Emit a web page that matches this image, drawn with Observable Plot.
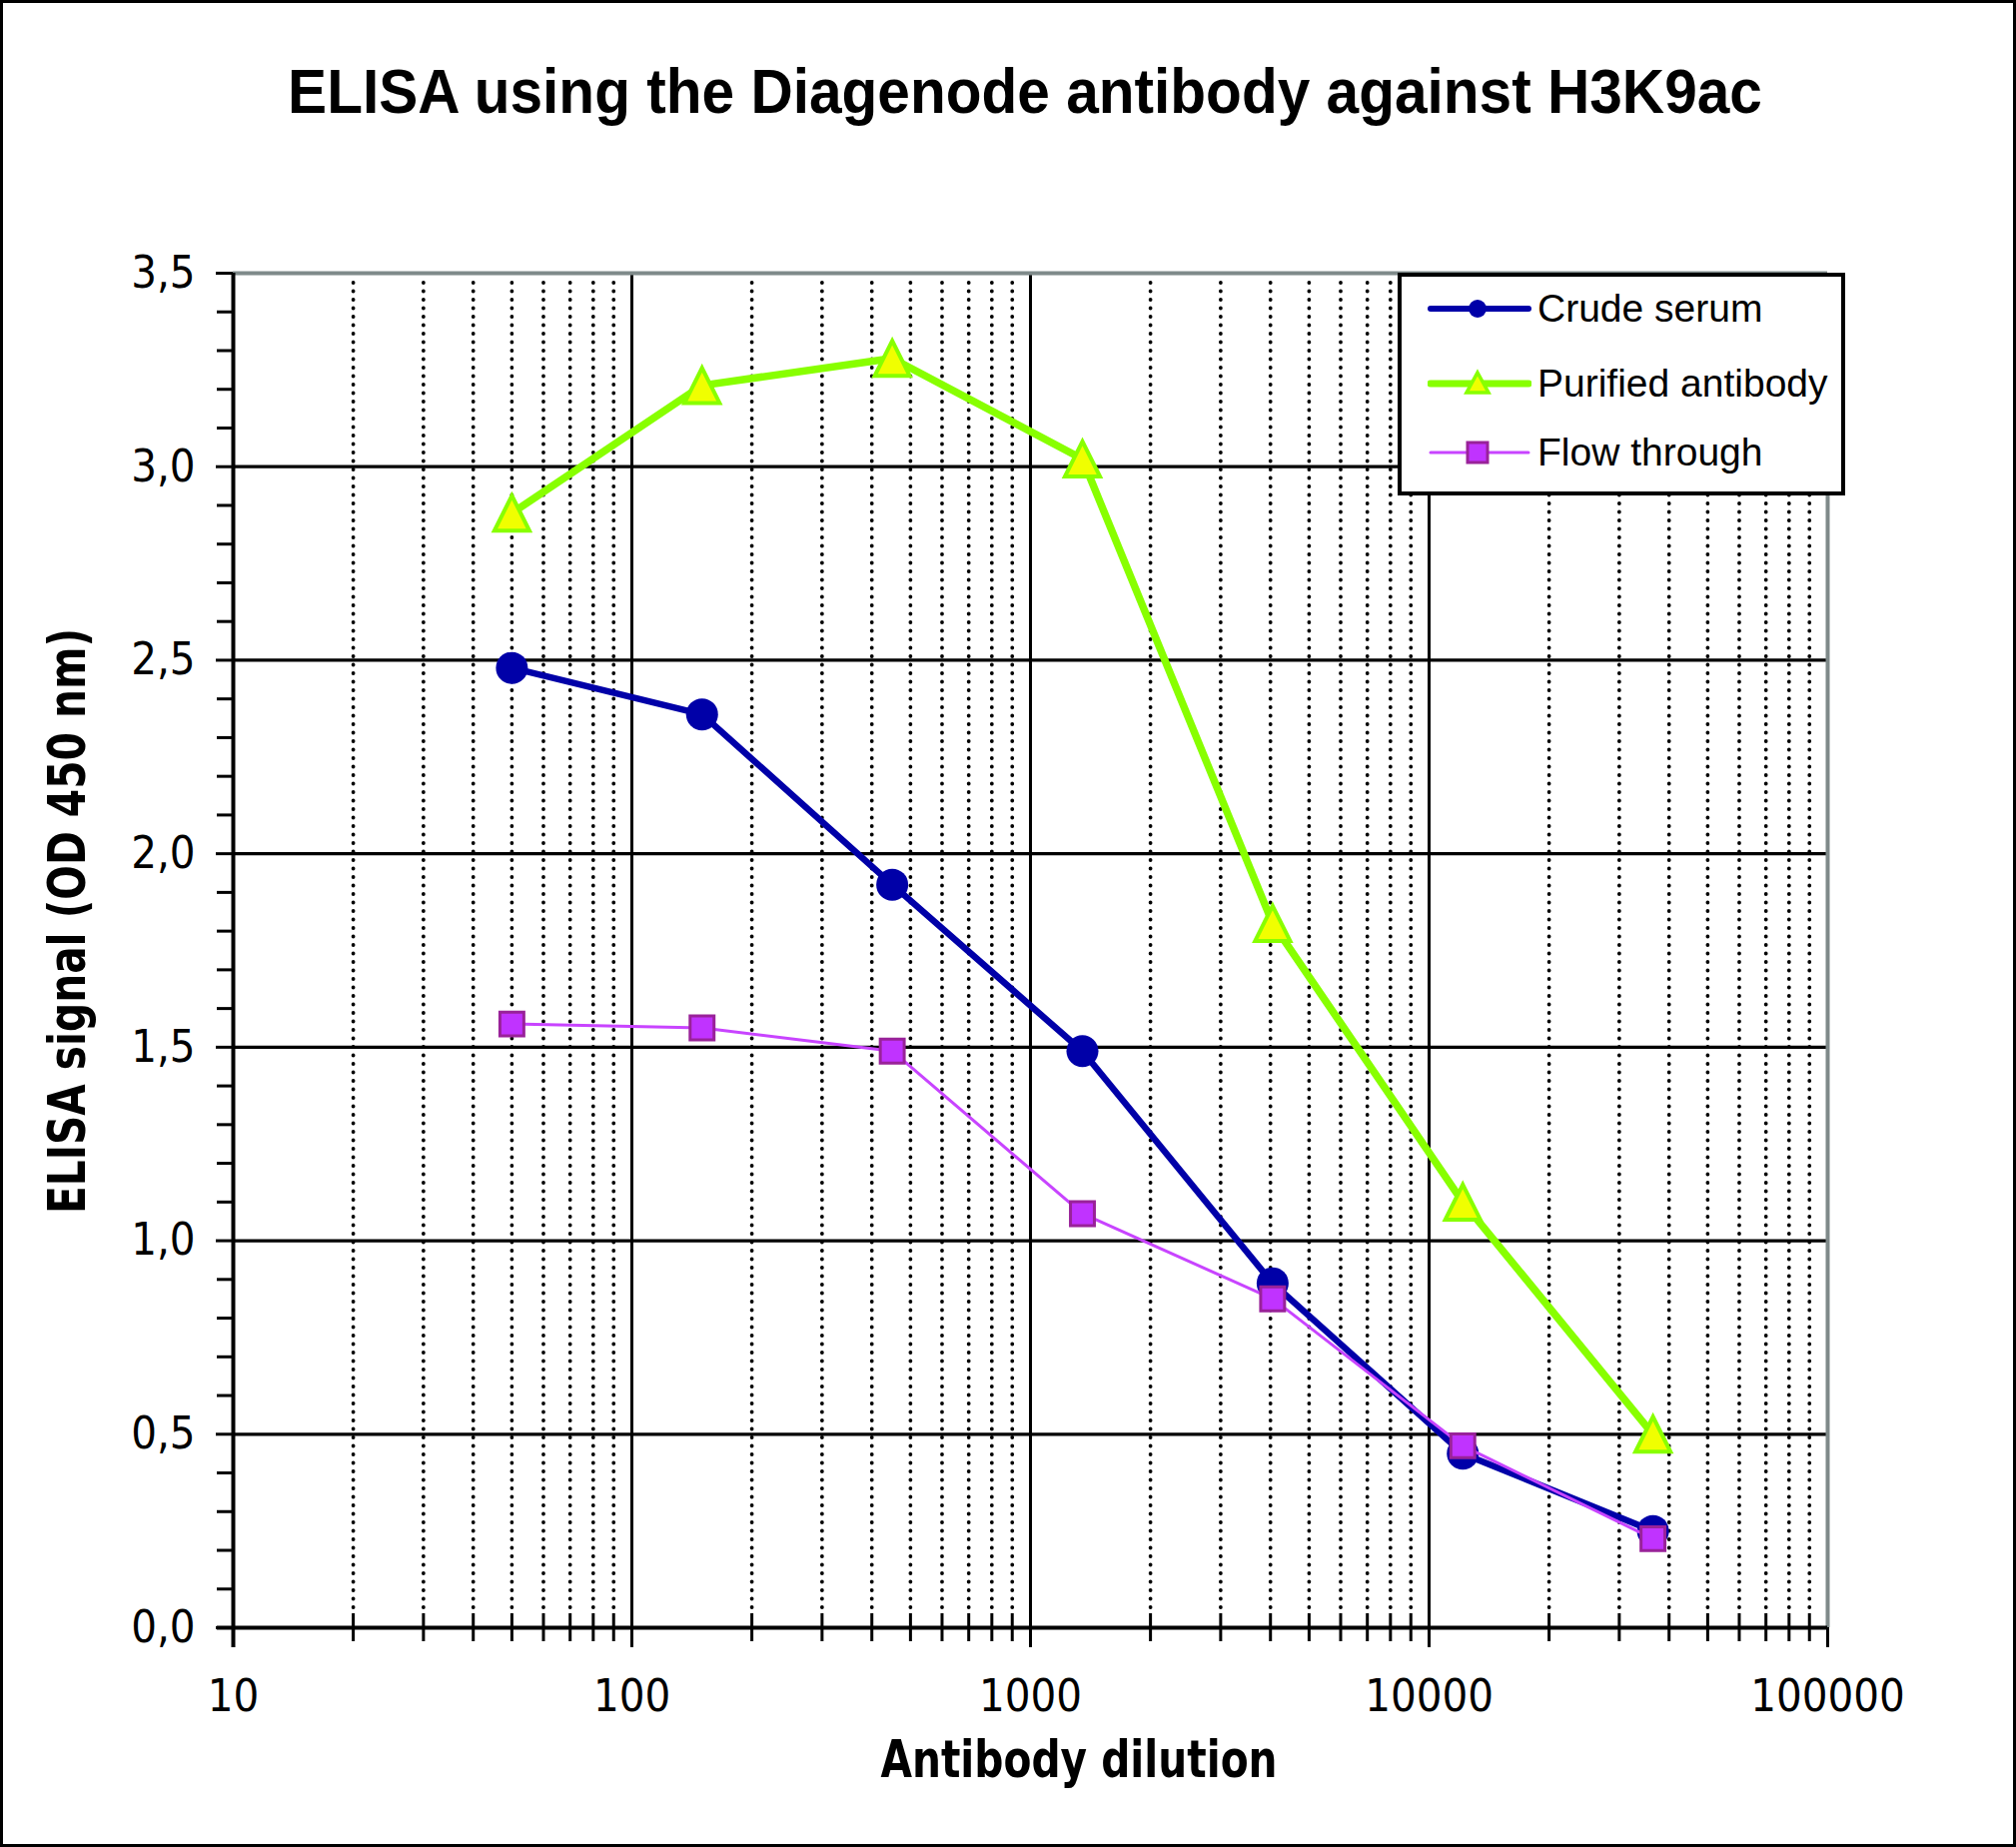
<!DOCTYPE html>
<html>
<head>
<meta charset="utf-8">
<script src="https://cdn.jsdelivr.net/npm/d3@7"></script>
<script src="https://cdn.jsdelivr.net/npm/@observablehq/plot@0.6"></script>
<style>
  html, body { margin: 0; padding: 0; background: #fff; }
  #page { position: relative; width: 2018px; height: 1849px; overflow: hidden; background: #fff; }
  #border { position: absolute; left: 0; top: 0; width: 2018px; height: 1849px; box-sizing: border-box; border: 3px solid #000; pointer-events: none; }
  #chart svg { position: absolute; left: 0; top: 0; }
  .title { position: absolute; left: 1026px; top: 60px; transform: translateX(-50%) scaleX(0.93); white-space: nowrap;
           font-family: "Liberation Sans", Arial, sans-serif; font-weight: bold; font-size: 63px; line-height: 63px; color: #000; }
  .xlabel { position: absolute; left: 1080px; top: 1730px; transform: translateX(-50%) scaleX(0.87); white-space: nowrap;
            font-family: "DejaVu Sans Condensed", "Liberation Sans", sans-serif; font-weight: bold; font-size: 52px; line-height: 62px; }
  .ylabel { position: absolute; left: 67px; top: 922px; transform: translate(-50%, -50%) rotate(-90deg) scaleX(0.87); white-space: nowrap;
            font-family: "DejaVu Sans Condensed", "Liberation Sans", sans-serif; font-weight: bold; font-size: 52px; line-height: 62px; }
  .legend { position: absolute; left: 1399px; top: 273px; width: 448px; height: 223px; box-sizing: border-box;
            border: 4px solid #000; background: #fff; }
  .legend .row { position: absolute; left: 0; height: 60px; display: flex; align-items: center; }
  .legend .row span { font-family: "Liberation Sans", Arial, sans-serif; font-size: 39px; color: #000; margin-left: 6px; white-space: nowrap; }
</style>
</head>
<body>
<div id="page">
  <div id="chart"></div>
  <div class="title">ELISA using the Diagenode antibody against H3K9ac</div>
  <div class="xlabel">Antibody dilution</div>
  <div class="ylabel">ELISA signal (OD 450 nm)</div>
  <div class="legend" id="legend"></div>
  <div id="border"></div>
</div>
<script>
// ---- data ----
const dilutions = [50, 150, 450, 1350, 4050, 12150, 36450];
const crudeSerum = [2.48, 2.36, 1.92, 1.49, 0.89, 0.45, 0.25];
const purifiedAntibody = [2.88, 3.21, 3.28, 3.02, 1.82, 1.10, 0.50];
const flowThrough = [1.56, 1.55, 1.49, 1.07, 0.85, 0.47, 0.23];
const seriesNames = ["Crude serum", "Purified antibody", "Flow through"];

// ---- ticks ----
const xMajorTicks = [10, 100, 1000, 10000, 100000];
const xMajorGrid = [100, 1000, 10000];
const xMinorTicks = [20, 30, 40, 50, 60, 70, 80, 90,
                     200, 300, 400, 500, 600, 700, 800, 900,
                     2000, 3000, 4000, 5000, 6000, 7000, 8000, 9000,
                     20000, 30000, 40000, 50000, 60000, 70000, 80000, 90000];
const yMajorTicks = [0, 0.5, 1.0, 1.5, 2.0, 2.5, 3.0, 3.5];
const yGrid = [0.5, 1.0, 1.5, 2.0, 2.5, 3.0];
const yMinorTicks = [0.1, 0.2, 0.3, 0.4, 0.6, 0.7, 0.8, 0.9, 1.1, 1.2, 1.3, 1.4,
                     1.6, 1.7, 1.8, 1.9, 2.1, 2.2, 2.3, 2.4, 2.6, 2.7, 2.8, 2.9,
                     3.1, 3.2, 3.3, 3.4];

const rows = vals => dilutions.map((d, i) => ({x: d, y: vals[i]}));
const crudeRows = rows(crudeSerum);
const purRows = rows(purifiedAntibody);
const flowRows = rows(flowThrough);

const C_BLUE = "#0000a8";
const C_GREEN = "#88ff00";
const C_YELLOW = "#f0ff00";
const C_MAG = "#c844ff";
const C_MAGFILL = "#c033ff";
const C_MAGSTROKE = "#992299";

// triangle centred on its bounding box (as spreadsheet markers are)
const boxTriangle = {
  draw(context, size) {
    const r = Math.sqrt(size / Math.PI);
    const h = 2.6 * r, w = 2.6 * r;
    context.moveTo(0, -h / 2);
    context.lineTo(w / 2, h / 2);
    context.lineTo(-w / 2, h / 2);
    context.closePath();
  }
};

const W = 2018, H = 1849;
const mL = 233, mR = W - 1829, mT = 273, mB = H - 1629;
const plotW = W - mL - mR, plotH = H - mT - mB;
const narrow = "'DejaVu Sans Condensed', 'Liberation Sans', sans-serif";

const chart = Plot.plot({
  width: W, height: H,
  marginLeft: mL, marginRight: mR, marginTop: mT, marginBottom: mB,
  style: {background: "transparent", overflow: "visible", fontFamily: narrow},
  x: {type: "log", domain: [10, 100000], axis: null},
  y: {domain: [0, 3.5], axis: null},
  marks: [
    // dotted minor vertical grid
    Plot.ruleX(xMinorTicks, {stroke: "#000", strokeWidth: 3.8, strokeDasharray: "0.1 8.4", strokeLinecap: "round", insetTop: 10, insetBottom: 14}),
    // solid major vertical grid
    Plot.ruleX(xMajorGrid, {stroke: "#000", strokeWidth: 3}),
    // horizontal grid
    Plot.ruleY(yGrid, {stroke: "#000", strokeWidth: 3.2}),
    // gray frame top and right
    Plot.ruleY([3.5], {stroke: "#7f8a8a", strokeWidth: 4}),
    Plot.ruleX([100000], {stroke: "#7f8a8a", strokeWidth: 4}),
    // y minor ticks (outside left)
    Plot.ruleY(yMinorTicks, {stroke: "#000", strokeWidth: 3, insetLeft: -16, insetRight: plotW}),
    // y major ticks + labels
    Plot.axisY(yMajorTicks, {label: null, tickSize: 17, tickPadding: 21, strokeWidth: 3, fontSize: 45, fontFamily: narrow,
                             tickFormat: d => d.toFixed(1).replace(".", ",")}),
    // x minor ticks crossing axis
    Plot.ruleX(xMinorTicks, {stroke: "#000", strokeWidth: 3, insetTop: plotH - 14, insetBottom: -14}),
    // x major ticks below
    Plot.ruleX(xMajorTicks, {stroke: "#000", strokeWidth: 3, insetTop: plotH, insetBottom: -20}),
    Plot.axisX(xMajorTicks, {label: null, tickSize: 0, tickPadding: 52, fontSize: 45, fontFamily: narrow, tickFormat: d => String(d)}),
    // axis lines
    Plot.ruleX([10], {stroke: "#000", strokeWidth: 4, insetBottom: -20}),
    Plot.ruleY([0], {stroke: "#000", strokeWidth: 4, insetLeft: -16}),
    // series
    Plot.line(crudeRows, {x: "x", y: "y", stroke: C_BLUE, strokeWidth: 6.5}),
    Plot.dot(crudeRows, {x: "x", y: "y", r: 16, fill: C_BLUE, stroke: null}),
    Plot.line(purRows, {x: "x", y: "y", stroke: C_GREEN, strokeWidth: 7.5}),
    Plot.dot(purRows, {x: "x", y: "y", symbol: boxTriangle, r: 13.5, fill: C_YELLOW, stroke: C_GREEN, strokeWidth: 4}),
    Plot.line(flowRows, {x: "x", y: "y", stroke: C_MAG, strokeWidth: 3}),
    Plot.dot(flowRows, {x: "x", y: "y", symbol: "square", r: 13.5, fill: C_MAGFILL, stroke: C_MAGSTROKE, strokeWidth: 3})
  ]
});
document.getElementById("chart").appendChild(chart);

// ---- legend ----
const legend = document.getElementById("legend");
const legendSpecs = [
  {name: seriesNames[0], stroke: C_BLUE, width: 6, marker: `<circle cx="50" cy="30" r="9" fill="${C_BLUE}"/>`},
  {name: seriesNames[1], stroke: C_GREEN, width: 7, marker: `<path d="M50,19 L61,39 L39,39 Z" fill="${C_YELLOW}" stroke="${C_GREEN}" stroke-width="3.5"/>`},
  {name: seriesNames[2], stroke: C_MAG, width: 3, marker: `<rect x="40" y="20" width="20" height="20" fill="${C_MAGFILL}" stroke="${C_MAGSTROKE}" stroke-width="3"/>`}
];
const rowTops = [2, 77, 146];
legendSpecs.forEach((s, i) => {
  const row = document.createElement("div");
  row.className = "row";
  row.style.top = rowTops[i] + "px";
  row.style.left = "26px";
  row.innerHTML = `<svg width="104" height="60" viewBox="0 0 104 60"><line x1="3" y1="30" x2="101" y2="30" stroke="${s.stroke}" stroke-width="${s.width}" stroke-linecap="round"/>${s.marker}</svg><span>${s.name}</span>`;
  legend.appendChild(row);
});
</script>
</body>
</html>
